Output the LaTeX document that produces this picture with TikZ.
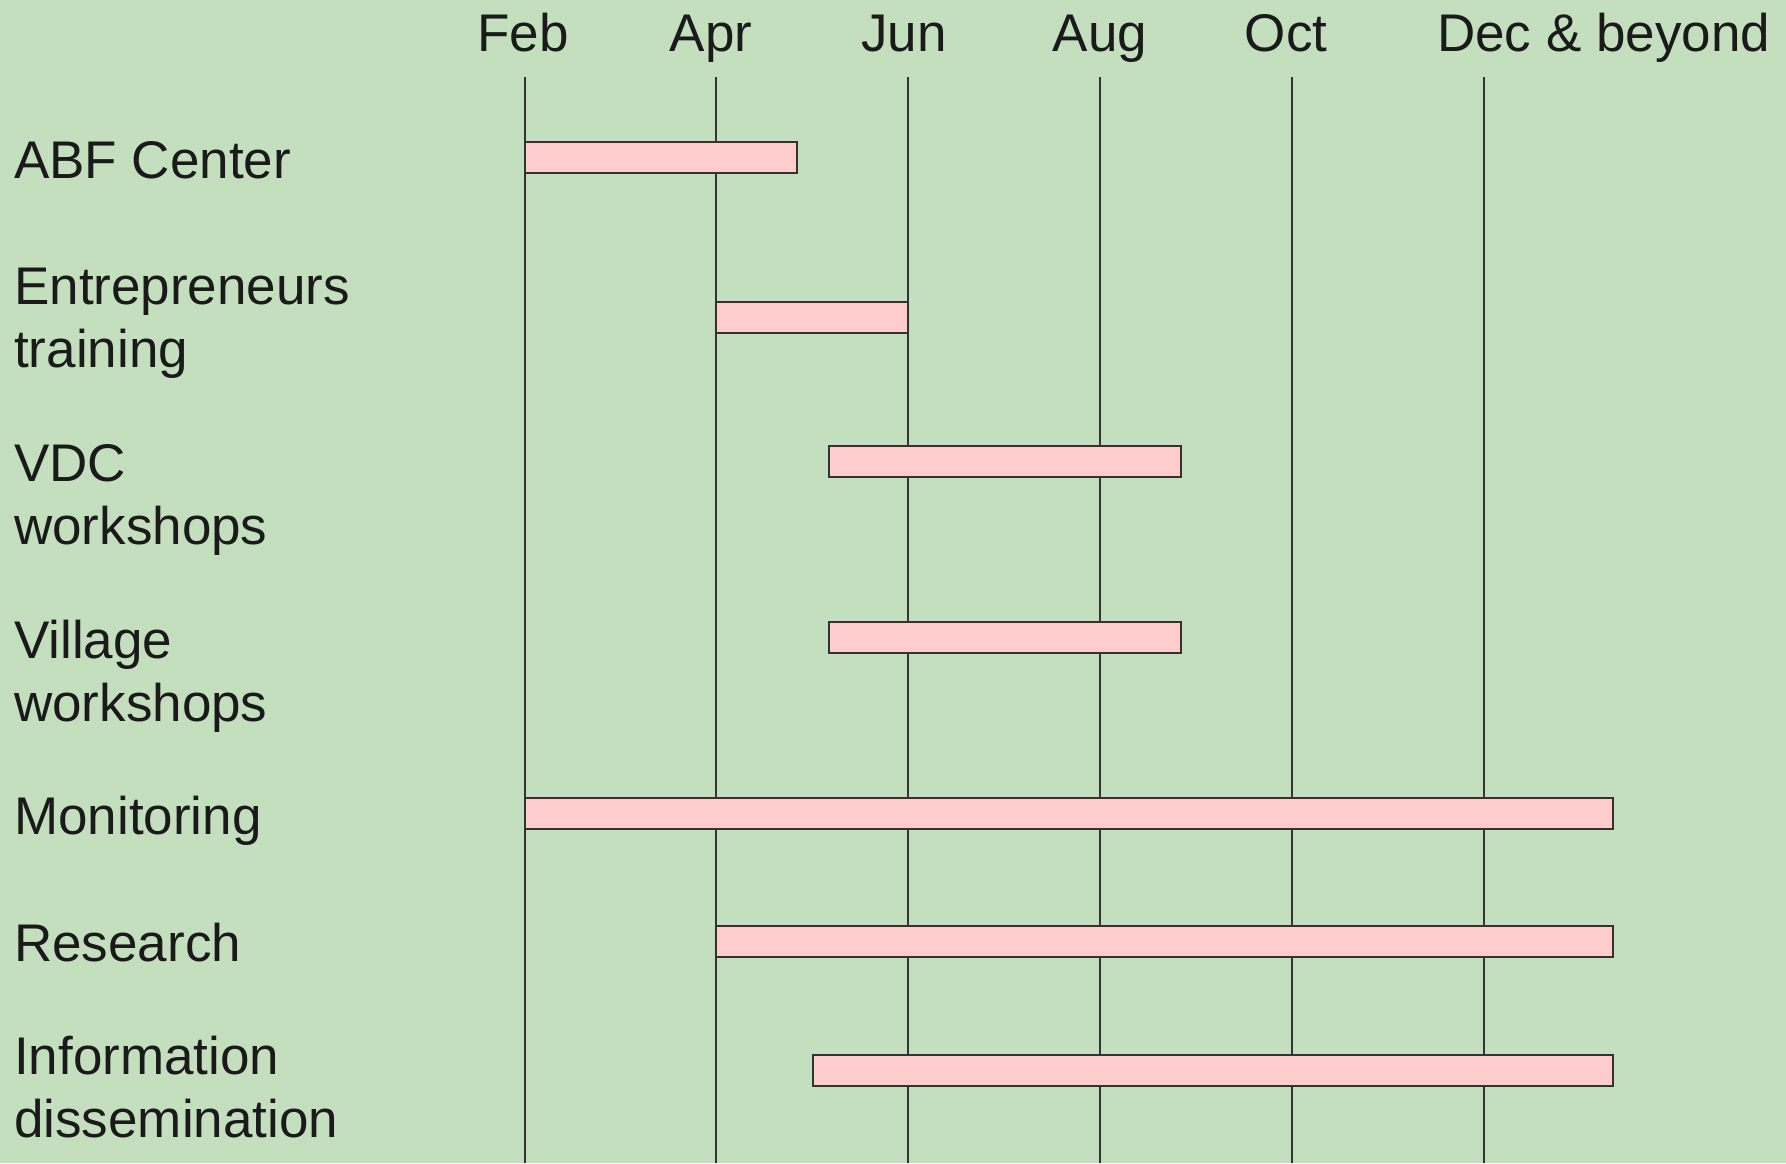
\documentclass[tikz,border=0pt]{standalone}
\usepackage{fontspec}
\setmainfont{Liberation Sans}
\usepackage{tikz}

\definecolor{bgsage}{HTML}{C4DFBE}
\definecolor{barpink}{HTML}{FFCCCC}
\definecolor{inkgray}{HTML}{333333}
\definecolor{textblack}{HTML}{1A1A1A}

\begin{document}
\begin{tikzpicture}[x=1pt, y=-1pt,
	every node/.style={font=\fontsize{53}{63}\selectfont, text=textblack, inner sep=0pt},
	month/.style={anchor=base},
	task/.style={anchor=north west, align=left},
	gridline/.style={inkgray, line width=2pt},
	bar/.style={draw=inkgray, fill=barpink, line width=2.8pt}]
	\useasboundingbox (0,0) rectangle (1786,1163);
	\fill[bgsage] (0,0) rectangle (1786,1163);
	% months along the top
	\node[month] (feb) at (523,51) {Feb};
	\node[month] (apr) at (711,51) {Apr};
	\node[month] (jun) at (904,51) {Jun};
	\node[month] (aug) at (1100,51) {Aug};
	\node[month] (oct) at (1286,51) {Oct};
	\node[month, anchor=base west] (dec) at (1437,51) {Dec \& beyond};
	% vertical month lines
	\draw[gridline] (525,77) -- (525,1163);
	\draw[gridline] (716,77) -- (716,1163);
	\draw[gridline] (908,77) -- (908,1163);
	\draw[gridline] (1100,77) -- (1100,1163);
	\draw[gridline] (1292,77) -- (1292,1163);
	\draw[gridline] (1484,77) -- (1484,1163);
	% tasks
	\node[task] (abf) at (14,141) {ABF Center};
	\node[task] (entre) at (14,268) {Entrepreneurs\\training};
	\node[task] (vdc) at (14,444) {VDC\\workshops};
	\node[task] (village) at (14,620) {Village\\workshops};
	\node[task] (monit) at (14,796) {Monitoring};
	\node[task] (research) at (14,923) {Research};
	\node[task] (info) at (14,1036) {Information\\dissemination};
	% bars
	\draw[bar] (525,142) rectangle (797,173);
	\draw[bar] (716,302) rectangle (908,333);
	\draw[bar] (829,446) rectangle (1181,477);
	\draw[bar] (829,622) rectangle (1181,653);
	\draw[bar] (525,798) rectangle (1613,829);
	\draw[bar] (716,926) rectangle (1613,957);
	\draw[bar] (813,1055) rectangle (1613,1086);
\end{tikzpicture}
\end{document}
